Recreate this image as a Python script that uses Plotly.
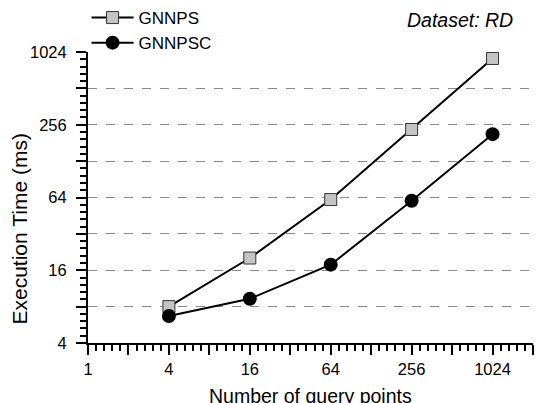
import plotly.graph_objects as go
import math

query_points = [4, 16, 64, 256, 1024]
gnnps = [8.0, 20.2, 61.5, 234, 905]
gnnpsc = [6.7, 9.3, 17.8, 60.1, 214]

x_major = [2 ** k for k in range(0, 12)]
x_labels = [str(v) if k % 2 == 0 and k <= 10 else "" for k, v in enumerate(x_major)]
y_major = [2 ** k for k in range(2, 11)]
y_labels = [str(v) if k % 2 == 0 else "" for k, v in zip(range(2, 11), y_major)]
x_minor = [2 ** (k + j / 5) for k in range(0, 11) for j in range(1, 5)]
y_minor = [2 ** (k + j / 5) for k in range(2, 10) for j in range(1, 5)]

FONT = "Liberation Sans, Arial, sans-serif"

fig = go.Figure()
fig.add_trace(go.Scatter(
    x=query_points, y=gnnps, name="GNNPS", mode="lines+markers",
    line=dict(color="black", width=2),
    marker=dict(symbol="square", size=12, color="#c4c4c4", line=dict(color="#333333", width=1)),
    legendgroup="a"))
fig.add_trace(go.Scatter(
    x=query_points, y=gnnpsc, name="GNNPSC", mode="lines+markers",
    line=dict(color="black", width=2),
    marker=dict(symbol="circle", size=14, color="black"),
    legendgroup="b"))

fig.update_layout(
    width=541, height=403,
    margin=dict(l=88, r=8, t=52, b=60, autoexpand=False),
    paper_bgcolor="white", plot_bgcolor="white",
    font=dict(family=FONT, color="black", size=16),
    showlegend=True,
    legend=dict(xref="container", yref="container", x=0.16, y=1.0,
                xanchor="left", yanchor="top",
                font=dict(size=17), bgcolor="rgba(0,0,0,0)",
                tracegroupgap=0, itemwidth=42),
    xaxis=dict(
        type="log", range=[0, math.log10(2048)],
        tickmode="array", tickvals=x_major, ticktext=x_labels,
        ticks="outside", ticklen=10, tickwidth=2, tickcolor="black",
        showline=True, linecolor="black", linewidth=2,
        showgrid=False, zeroline=False,
        tickfont=dict(size=16.5),
        minor=dict(tickmode="array", tickvals=x_minor, ticks="outside",
                   ticklen=6, tickwidth=2, tickcolor="black", showgrid=False),
    ),
    yaxis=dict(
        type="log", range=[math.log10(4), math.log10(1024)],
        tickmode="array", tickvals=y_major, ticktext=y_labels,
        ticks="outside", ticklen=10, tickwidth=2, tickcolor="black",
        showline=True, linecolor="black", linewidth=2,
        showgrid=True, gridcolor="#8a8a8a", gridwidth=1, griddash="dash",
        zeroline=False,
        tickfont=dict(size=16.5),
        ticklabelstandoff=6,
        minor=dict(tickmode="array", tickvals=y_minor, ticks="outside",
                   ticklen=6, tickwidth=2, tickcolor="black", showgrid=False),
    ),
    annotations=[
        dict(text="Dataset: RD", xref="paper", yref="paper", x=1.0, y=1.0,
             xshift=-18, yshift=32, xanchor="right", yanchor="middle", showarrow=False,
             font=dict(size=19.5, family=FONT, style="italic")),
        dict(text="Execution Time (ms)", xref="paper", yref="paper", x=0, y=0.5,
             xshift=-69, yshift=-32, xanchor="center", yanchor="middle", showarrow=False,
             textangle=-90, font=dict(size=21, family=FONT)),
        dict(text="Number of query points", xref="paper", yref="paper", x=0.5, y=0,
             yshift=-53, xanchor="center", yanchor="middle", showarrow=False,
             font=dict(size=19.5, family=FONT)),
    ],
)

fig.write_html("out.html")
